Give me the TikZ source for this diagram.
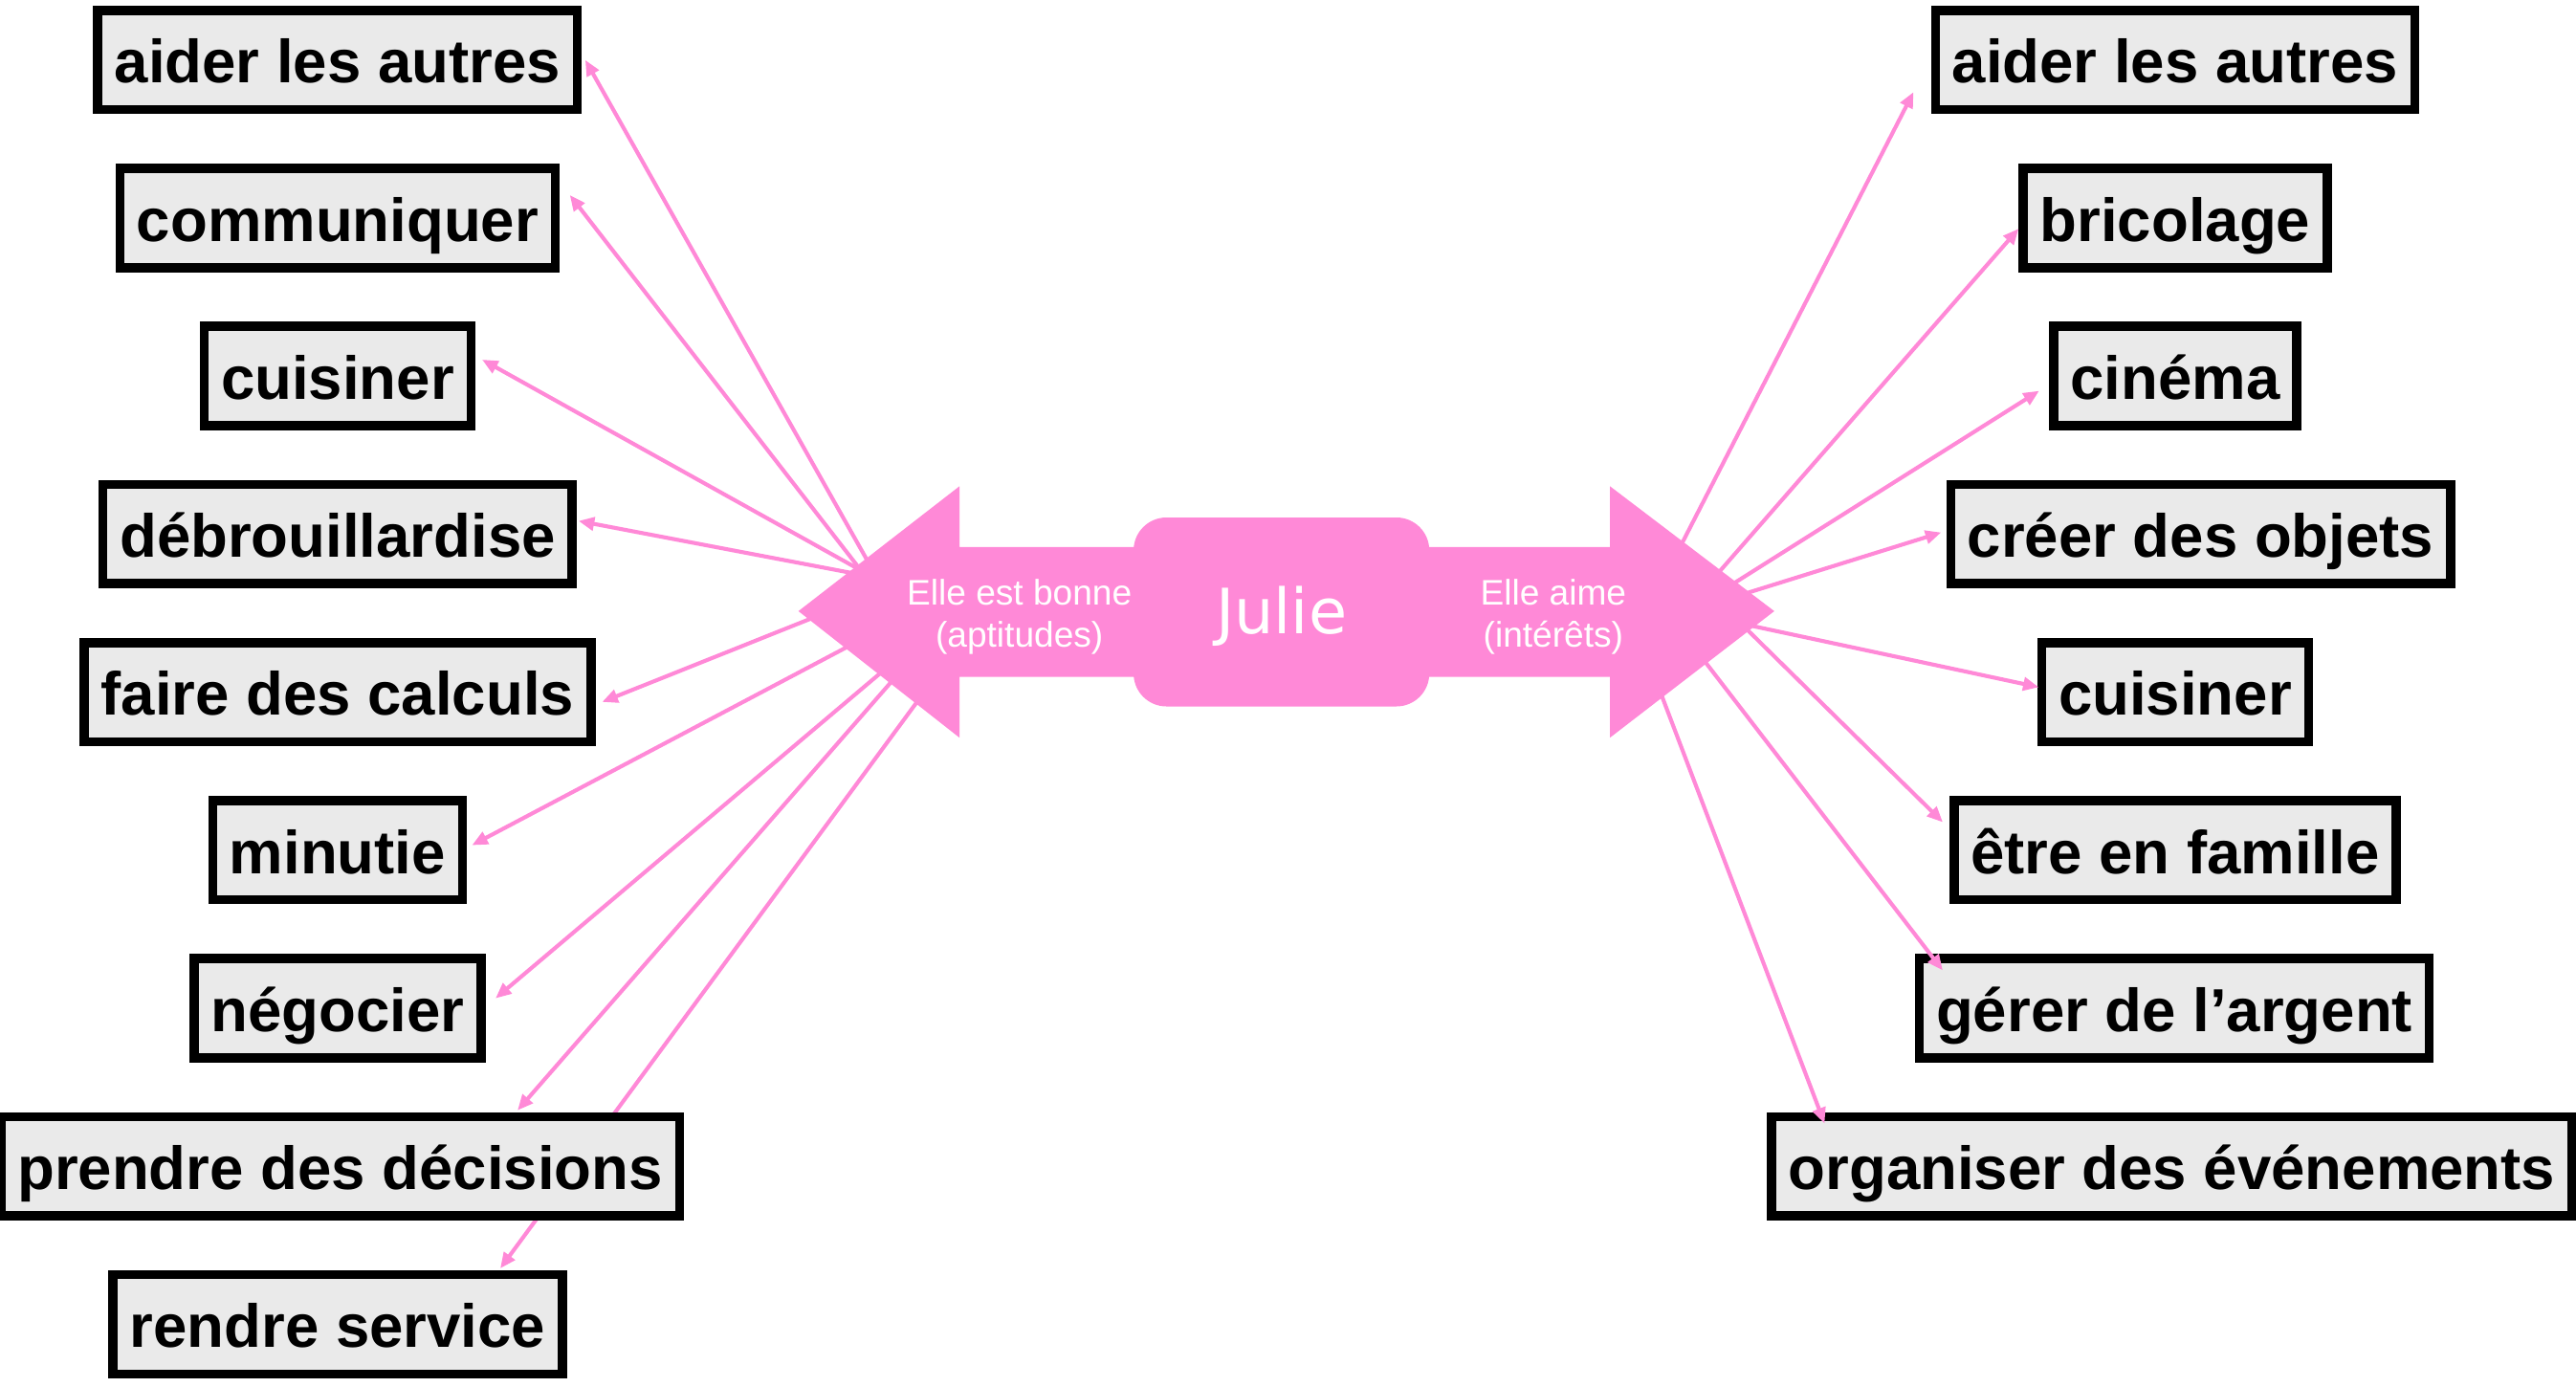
\documentclass[tikz,border=0pt]{standalone}
\usepackage{fontspec}
\setmainfont{Liberation Sans}
\newfontfamily\juliefont{DejaVu Sans}
\usetikzlibrary{arrows.meta,calc}
\definecolor{pinkc}{HTML}{FF89D7}
\definecolor{boxgray}{HTML}{EAEAEA}
\pgfdeclarelayer{bg}
\pgfsetlayers{bg,main}
\begin{document}
\begin{tikzpicture}[x=0.5pt,y=-0.5pt,
  item/.style={draw=black, line width=2.8pt, fill=boxgray, inner xsep=5.1pt, inner ysep=0pt,
    minimum height=30.2pt, text height=16.2pt, text depth=2.1pt,
    font=\bfseries\fontsize{18.5}{22}\selectfont},
  link/.style={draw=pinkc, line width=1.2pt, -{Triangle[length=4.8pt,width=4pt]}},
  lbl/.style={text=white, align=center, inner sep=0pt, font=\fontsize{10.8}{13}\selectfont},
  juliebox/.style={fill=pinkc, rounded corners=10pt, minimum width=90pt, minimum height=57.5pt,
    inner sep=0pt, text=white, font=\juliefont\fontsize{19}{22}\selectfont}]
\useasboundingbox (0,0) rectangle (1568,844);

% left boxes
\node[item] (l1) at (205.5,36.5) {aider les autres};
\node[item] (l2) at (205.5,132.7) {communiquer};
\node[item] (l3) at (205.5,228.9) {cuisiner};
\node[item] (l4) at (205.5,325.1) {débrouillardise};
\node[item] (l5) at (205.5,421.3) {faire des calculs};
\node[item] (l6) at (205.5,517.5) {minutie};
\node[item] (l7) at (205.5,613.7) {négocier};
\node[item] (l8) at (207,709.9) {prendre des décisions};
\node[item] (l9) at (205.5,806.1) {rendre service};

% right boxes
\node[item] (r1) at (1324,36.5) {aider les autres};
\node[item] (r2) at (1324,132.7) {bricolage};
\node[item] (r3) at (1324,228.9) {cinéma};
\node[item] (r4) at (1339.5,325.1) {créer des objets};
\node[item] (r5) at (1324,421.3) {cuisiner};
\node[item] (r6) at (1324,517.5) {être en famille};
\node[item] (r7) at (1323.5,613.7) {gérer de l’argent};
\node[item] (r8) at (1322,709.9) {organiser des événements};

% start points (hidden under the central shape)
\coordinate (sL1) at (532.9,350);
\coordinate (sL2) at (529.3,354);
\coordinate (sL3) at (530.5,350.8);
\coordinate (sL4) at (528.1,350.6);
\coordinate (sL5) at (502.2,373.1);
\coordinate (sL6) at (524,389.4);
\coordinate (sL7) at (542.9,403.8);
\coordinate (sL8) at (548.4,408.3);
\coordinate (sL9) at (564.1,419.2);
\coordinate (sR1) at (1019.2,339.7);
\coordinate (sR2) at (1040.1,355.4);
\coordinate (sR3) at (1046.6,360.6);
\coordinate (sR4) at (1053,364.2);
\coordinate (sR5) at (1056.7,378.9);
\coordinate (sR6) at (1056,375.9);
\coordinate (sR7) at (1032,395.2);
\coordinate (sR8) at (1007.8,413.8);

% connectors
\draw[link] (sL1) -- ($(l1.east)+(2,0)$);
\draw[link] (sL2) -- ($(l2.east)+(6,-14)$);
\draw[link] (sL3) -- ($(l3.east)+(4,-10)$);
\draw[link] (sL4) -- ($(l4.east)+(1,-8)$);
\draw[link] (sL5) -- ($(l5.east)+(4,6)$);
\draw[link] (sL6) -- ($(l6.east)+(3,-3)$);
\draw[link] (sL7) -- ($(l7.east)+(6,-6)$);
\draw[link] (sL8) -- ($(l8.north)+(108,-1)$);
\begin{pgfonlayer}{bg}
\draw[link] (sL9) -- ($(l9.north)+(99,-1)$);
\end{pgfonlayer}
\draw[link] (sR1) -- ($(r1.west)+(-10.5,19.5)$);
\draw[link] (sR2) -- ($(r2.west)+(0,6.5)$);
\draw[link] (sR3) -- ($(r3.west)+(-6,9)$);
\draw[link] (sR4) -- ($(r4.west)+(-3,-1)$);
\draw[link] (sR5) -- ($(r5.west)+(1,-3)$);
\draw[link] (sR6) -- ($(r6.west)+(-4,-17)$);
\draw[link] (sR7) -- ($(r7.north west)+(17,10)$);
\draw[link] (sR8) -- ($(r8.north west)+(35,7)$);

% central double arrow
\fill[pinkc] (486,372) -- (584,296) -- (584,333) -- (980,333) -- (980,296) -- (1080,372)
  -- (980,449) -- (980,412) -- (584,412) -- (584,449) -- cycle;
\node[juliebox] (julie) at (780,372.5) {};
\node[text=white, font=\juliefont\fontsize{19}{22}\selectfont] (jtxt) at (780,375) {Julie};
\node[lbl] (apt) at (620.5,375.5) {Elle est bonne\\(aptitudes)};
\node[lbl] (int) at (945.5,375.5) {Elle aime\\(intérêts)};
\end{tikzpicture}
\end{document}
